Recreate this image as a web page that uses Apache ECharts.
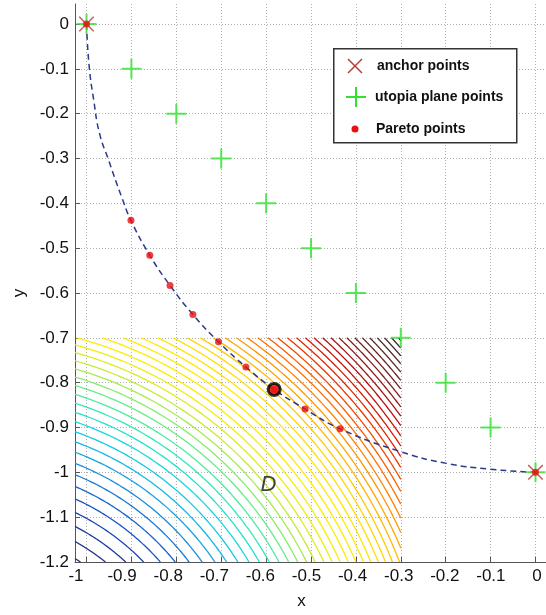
<!DOCTYPE html>
<html><head><meta charset="utf-8">
<script src="https://cdn.jsdelivr.net/npm/echarts@6/dist/echarts.min.js"></script>
<style>html,body{margin:0;padding:0;background:#fff}#c{width:546px;height:615px}</style>
</head><body><div id="c"></div>
<script>
// ---- data ----
const xTicks = [-1, -0.9, -0.8, -0.7, -0.6, -0.5, -0.4, -0.3, -0.2, -0.1, 0];
const yTicks = [0, -0.1, -0.2, -0.3, -0.4, -0.5, -0.6, -0.7, -0.8, -0.9, -1, -1.1, -1.2];

const anchorX = [-1, 0];
const anchorY = [0, -1];

const utopiaX = [-1, -0.9, -0.8, -0.7, -0.6, -0.5, -0.4, -0.3, -0.2, -0.1, 0];
const utopiaY = [0, -0.1, -0.2, -0.3, -0.4, -0.5, -0.6, -0.7, -0.8, -0.9, -1];

const paretoX = [-1, -0.901, -0.859, -0.814, -0.763, -0.706, -0.645, -0.582, -0.513, -0.435, 0];
const paretoY = [0, -0.438, -0.516, -0.583, -0.648, -0.709, -0.765, -0.815, -0.859, -0.903, -1];

const chosenX = [-0.582];
const chosenY = [-0.815];

const frontX = [-1, -0.994, -0.984, -0.971, -0.951, -0.922, -0.901, -0.859, -0.814, -0.763, -0.706, -0.645, -0.582, -0.513, -0.435, -0.3, -0.198, -0.101, 0];
const frontY = [0, -0.095, -0.169, -0.244, -0.303, -0.385, -0.438, -0.516, -0.583, -0.648, -0.709, -0.765, -0.815, -0.859, -0.903, -0.954, -0.980, -0.993, -1];

// contour lines of the region D: concentric levels (squared distance to centre)
const contourCenter = [-1.256, -1.569];
const contourLevels = [0.195, 0.225, 0.254, 0.283, 0.313, 0.342, 0.371, 0.400, 0.430, 0.459,
  0.488, 0.518, 0.547, 0.576, 0.605, 0.635, 0.664, 0.693, 0.722, 0.752,
  0.781, 0.810, 0.840, 0.869, 0.898, 0.927, 0.957, 0.986, 1.015, 1.045,
  1.074, 1.103, 1.132, 1.162, 1.191, 1.220, 1.250, 1.279, 1.308, 1.337,
  1.367, 1.396, 1.425, 1.454, 1.484, 1.513, 1.542, 1.572, 1.601, 1.630, 1.659];
const regionX = [-1.0256, -0.3];
const regionY = [-1.2, -0.7];
const regionLabelPos = [-0.595, -1.028];
const regionLabel = 'D';

const legendNames = ['anchor points', 'utopia plane points', 'Pareto points'];

// ---- styles ----
const contourColors = [
'#2a3468','#253585','#1f3aa0','#1a46b8','#1654c8','#1664d2','#1878d8','#1a8cde','#18a2e2','#14b8e4',
'#12cae2','#18d8dc','#20e2cc','#34e8b8','#4cec9e','#66ee86','#86ee6a','#a6ec4e','#c4ec34','#deec1e',
'#f0ee0e','#f8ee04','#fcee00','#ffec00','#ffea00','#ffe600','#ffe000','#ffd800','#ffca00','#ffba00',
'#ffa800','#ff9600','#ff8400','#ff7200','#fa5e00','#f24a00','#ea3800','#e02800','#d41a02','#c61208',
'#b60e0e','#a41414','#941a1a','#841e1e','#742222','#662626','#5a2828','#4e2828','#442626','#3c2424','#342222'];
const FONT = "'Liberation Sans', Arial, Helvetica, sans-serif";
const xPath = 'path://M0,0L1.4,0L10,8.6L18.6,0L20,0L20,1.4L11.4,10L20,18.6L20,20L18.6,20L10,11.4L1.4,20L0,20L0,18.6L8.6,10L0,1.4Z';
const plusPath = 'path://M9,0H11V9H20V11H11V20H9V11H0V9H9Z';
const axisColor = '#555';
const gridLine = { show: true, lineStyle: { color: '#b0b0b0', width: 1, type: [1, 2] } };

const zip = (xs, ys) => xs.map((x, i) => [x, ys[i]]);

const chart = echarts.init(document.getElementById('c'), null, { renderer: 'canvas' });
chart.setOption({
  animation: false,
  backgroundColor: '#fff',
  grid: [
    { left: 75, right: 0, top: 4, bottom: 53 },
    { left: 76, right: 9, top: 4, bottom: 53 }
  ],
  xAxis: [
    {
      type: 'value', gridIndex: 0, min: -1.0256, max: 0.0234,
      axisLine: { show: true, onZero: false, lineStyle: { color: axisColor, width: 1 } },
      axisTick: { show: true, inside: true, length: 5, customValues: xTicks, lineStyle: { color: axisColor } },
      axisLabel: { show: false },
      splitLine: gridLine
    },
    {
      type: 'value', gridIndex: 1, min: -1, max: 0, interval: 0.1,
      axisLine: { show: false }, axisTick: { show: false }, splitLine: { show: false },
      axisLabel: { show: true, fontSize: 17, color: '#111', fontFamily: FONT, margin: 10 },
      name: 'x', nameLocation: 'middle', nameGap: 35,
      nameTextStyle: { fontSize: 17, color: '#111', fontFamily: FONT, padding: [0, 10, 0, 0] }
    }
  ],
  yAxis: [
    {
      type: 'value', gridIndex: 0, min: -1.2, max: 0.0446,
      axisLine: { show: true, onZero: false, lineStyle: { color: axisColor, width: 1 } },
      axisTick: { show: true, inside: true, length: 5, customValues: yTicks, lineStyle: { color: axisColor } },
      axisLabel: { show: true, customValues: yTicks, fontSize: 17, color: '#111', fontFamily: FONT, margin: 6 },
      splitLine: gridLine,
      name: 'y', nameLocation: 'middle', nameGap: 47, nameRotate: 90,
      nameTextStyle: { fontSize: 17, color: '#111', fontFamily: FONT, padding: [0, 20, 0, 0] }
    },
    { type: 'value', gridIndex: 1, min: 0, max: 1, show: false }
  ],
  series: [
    {
      type: 'custom', name: 'contours', xAxisIndex: 0, yAxisIndex: 0, clip: false, silent: true, z: 1,
      data: contourLevels.map(v => [v]),
      encode: { x: -1, y: -1 },
      renderItem: function (params, api) {
        const f = contourLevels[params.dataIndex];
        const R = Math.sqrt(f);
        const cx = contourCenter[0], cy = contourCenter[1];
        const cl = v => Math.max(-1, Math.min(1, v));
        const t0 = Math.max(Math.acos(cl((regionX[1] - cx) / R)), Math.asin(cl((regionY[0] - cy) / R)));
        const t1 = Math.min(Math.acos(cl((regionX[0] - cx) / R)), Math.asin(cl((regionY[1] - cy) / R)));
        if (!(t1 > t0)) return null;
        const pts = [];
        const n = 60;
        for (let i = 0; i <= n; i++) {
          const t = t0 + (t1 - t0) * i / n;
          pts.push(api.coord([cx + R * Math.cos(t), cy + R * Math.sin(t)]));
        }
        return { type: 'polyline', shape: { points: pts },
          style: { stroke: contourColors[params.dataIndex], lineWidth: 1.3, fill: null } };
      }
    },
    {
      type: 'line', name: 'front', xAxisIndex: 0, yAxisIndex: 0, z: 3,
      data: zip(frontX, frontY), smooth: 0.5, showSymbol: false, silent: true,
      lineStyle: { color: '#2b3a86', width: 1.5, type: [6, 4] }
    },
    {
      type: 'scatter', name: legendNames[1], xAxisIndex: 0, yAxisIndex: 0, z: 4,
      data: zip(utopiaX, utopiaY), symbol: plusPath, symbolSize: 20,
      itemStyle: { color: '#2ee22e' }
    },
    {
      type: 'scatter', name: legendNames[0], xAxisIndex: 0, yAxisIndex: 0, z: 5,
      data: zip(anchorX, anchorY), symbol: xPath, symbolSize: 15,
      itemStyle: { color: '#b83a3a' }
    },
    {
      type: 'scatter', name: legendNames[2], xAxisIndex: 0, yAxisIndex: 0, z: 6,
      data: zip(paretoX, paretoY), symbol: 'circle', symbolSize: 7,
      itemStyle: { color: '#e81010' }
    },
    {
      type: 'scatter', name: 'chosen', xAxisIndex: 0, yAxisIndex: 0, z: 7,
      data: zip(chosenX, chosenY), symbol: 'circle', symbolSize: 12,
      itemStyle: { color: '#e81010', borderColor: '#000', borderWidth: 3 }
    },
    {
      type: 'scatter', name: 'label', xAxisIndex: 0, yAxisIndex: 0, z: 8,
      data: [regionLabelPos], symbolSize: 0, silent: true,
      label: { show: true, position: 'inside', formatter: regionLabel, fontSize: 22, fontStyle: 'italic',
        color: '#111', fontFamily: FONT }
    }
  ],
  graphic: [
    { type: 'rect', left: 333, top: 48, z: 100, shape: { width: 183, height: 94 },
      style: { fill: '#fff', stroke: '#333', lineWidth: 1.5 } },
    { type: 'group', z: 101, children: [
      { type: 'line', shape: { x1: 348, y1: 59, x2: 362, y2: 73 }, style: { stroke: '#b83a3a', lineWidth: 1.5 }, z: 101 },
      { type: 'line', shape: { x1: 362, y1: 59, x2: 348, y2: 73 }, style: { stroke: '#b83a3a', lineWidth: 1.5 }, z: 101 },
      { type: 'line', shape: { x1: 346, y1: 97, x2: 366, y2: 97 }, style: { stroke: '#2ee22e', lineWidth: 2 }, z: 101 },
      { type: 'line', shape: { x1: 356, y1: 87, x2: 356, y2: 107 }, style: { stroke: '#2ee22e', lineWidth: 2 }, z: 101 },
      { type: 'circle', shape: { cx: 355, cy: 129, r: 3.5 }, style: { fill: '#e81010' }, z: 101 },
      { type: 'text', x: 377, y: 66, z: 101, style: { text: legendNames[0], font: 'bold 14px ' + FONT, fill: '#111', verticalAlign: 'middle' } },
      { type: 'text', x: 375, y: 97, z: 101, style: { text: legendNames[1], font: 'bold 14px ' + FONT, fill: '#111', verticalAlign: 'middle' } },
      { type: 'text', x: 376, y: 129, z: 101, style: { text: legendNames[2], font: 'bold 14px ' + FONT, fill: '#111', verticalAlign: 'middle' } }
    ] }
  ]
});
</script>
</body></html>
